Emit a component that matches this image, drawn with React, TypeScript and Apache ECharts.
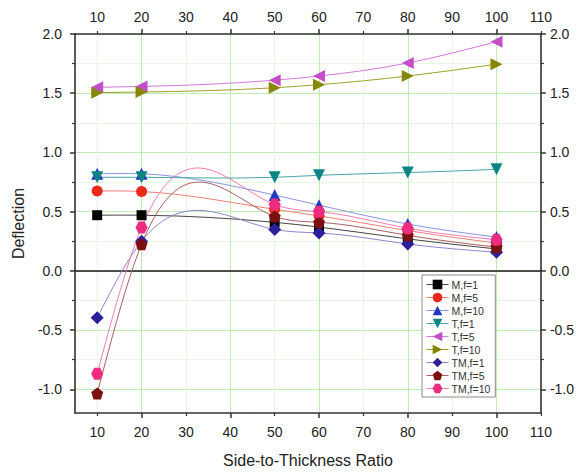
import React, { useEffect, useRef } from "react";
import * as echarts from "echarts";

// ---- data ----
const xValues = [10, 20, 50, 60, 80, 100];
const seriesNames = ["M,f=1", "M,f=5", "M,f=10", "T,f=1", "T,f=5", "T,f=10", "TM,f=1", "TM,f=5", "TM,f=10"];
const mF1 = [0.47, 0.47, 0.41, 0.37, 0.27, 0.185];
const mF5 = [0.675, 0.67, 0.52, 0.465, 0.34, 0.235];
const mF10 = [0.82, 0.82, 0.64, 0.555, 0.395, 0.285];
const tF1 = [0.79, 0.79, 0.79, 0.807, 0.83, 0.857];
const tF5 = [1.55, 1.557, 1.61, 1.645, 1.755, 1.935];
const tF10 = [1.505, 1.51, 1.546, 1.572, 1.645, 1.745];
const tmF1 = [-0.395, 0.25, 0.35, 0.32, 0.227, 0.157];
const tmF5 = [-1.035, 0.225, 0.46, 0.41, 0.3, 0.2];
const tmF10 = [-0.868, 0.367, 0.56, 0.5, 0.36, 0.263];
const allValues = [mF1, mF5, mF10, tF1, tF5, tF10, tmF1, tmF5, tmF10];

const xLabelValues = [10, 20, 30, 40, 50, 60, 70, 80, 90, 100, 110];
const xMajorTicks = [20, 40, 60, 80, 100];
const xMinorTicks = [10, 30, 50, 70, 90, 110];
const yLabelValues = [-1, -0.5, 0, 0.5, 1, 1.5, 2];
const yMinorTicks = [-0.75, -0.25, 0.25, 0.75, 1.25, 1.75];

// ---- styles ----
const PENTAGON = "path://M0,-10L9.51,-3.09L5.88,8.09L-5.88,8.09L-9.51,-3.09Z";
const HEXAGON = "path://M-5,-8.66L5,-8.66L10,0L5,8.66L-5,8.66L-10,0Z";
const styles = [
  { symbol: "rect", size: 10, rotate: 0, color: "#000000", line: "#444444" },
  { symbol: "circle", size: 11, rotate: 0, color: "#ec2a1c", line: "#f08078" },
  { symbol: "triangle", size: 12, rotate: 0, color: "#2138c0", line: "#8a96dc" },
  { symbol: "triangle", size: 12, rotate: 180, color: "#0b8484", line: "#4aa6a6" },
  { symbol: "triangle", size: 12, rotate: 90, color: "#c44ec8", line: "#d27ad6" },
  { symbol: "triangle", size: 12, rotate: -90, color: "#868600", line: "#a2a22a" },
  { symbol: "diamond", size: 13, rotate: 0, color: "#2c209a", line: "#8e86c8" },
  { symbol: PENTAGON, size: 12, rotate: 0, color: "#7c1010", line: "#a86060" },
  { symbol: HEXAGON, size: 12, rotate: 0, color: "#ee2c80", line: "#f27cb4" },
];

const FONT = "'Liberation Sans', Arial, Helvetica, sans-serif";
const AXIS_COLOR = "#333333";
const LABEL_COLOR = "#222222";
const MAJOR_GRID = "#c0eab6";
const MINOR_GRID = "#e8f6e5";
const X_MIN = 5, X_MAX = 110, Y_MIN = -1.2, Y_MAX = 2.0;

// natural cubic spline -> bezier segments (data space), used only to draw the connecting line
function splineSegments(xs: number[], ys: number[]) {
  const n = xs.length;
  const h: number[] = [];
  for (let i = 0; i < n - 1; i++) h.push(xs[i + 1] - xs[i]);
  const M = new Array(n).fill(0);
  if (n > 2) {
    const m = n - 2;
    const a: number[] = [], b: number[] = [], c: number[] = [], d: number[] = [];
    for (let k = 0; k < m; k++) {
      const i = k + 1;
      a.push(h[i - 1]);
      b.push(2 * (h[i - 1] + h[i]));
      c.push(h[i]);
      d.push(6 * ((ys[i + 1] - ys[i]) / h[i] - (ys[i] - ys[i - 1]) / h[i - 1]));
    }
    for (let k = 1; k < m; k++) {
      const w = a[k] / b[k - 1];
      b[k] -= w * c[k - 1];
      d[k] -= w * d[k - 1];
    }
    const sol = new Array(m).fill(0);
    sol[m - 1] = d[m - 1] / b[m - 1];
    for (let k = m - 2; k >= 0; k--) sol[k] = (d[k] - c[k] * sol[k + 1]) / b[k];
    for (let k = 0; k < m; k++) M[k + 1] = sol[k];
  }
  const segs = [];
  for (let i = 0; i < n - 1; i++) {
    const hi = h[i];
    const dy = (ys[i + 1] - ys[i]) / hi;
    const s0 = dy - (hi * (2 * M[i] + M[i + 1])) / 6;
    const s1 = dy + (hi * (M[i] + 2 * M[i + 1])) / 6;
    segs.push({
      p0: [xs[i], ys[i]],
      c1: [xs[i] + hi / 3, ys[i] + (s0 * hi) / 3],
      c2: [xs[i + 1] - hi / 3, ys[i + 1] - (s1 * hi) / 3],
      p1: [xs[i + 1], ys[i + 1]],
    });
  }
  return segs;
}

export default function App() {
  const ref = useRef<HTMLDivElement>(null);
  useEffect(() => {
    if (!ref.current) return;
    const chart = echarts.init(ref.current, null, { renderer: "svg" });

    const baseX = { type: "value", min: X_MIN, max: X_MAX, gridIndex: 0 } as any;
    const baseY = { type: "value", min: Y_MIN, max: Y_MAX, gridIndex: 0 } as any;
    const label = (values: number[], margin: number, fmt: (v: number) => string) => ({
      show: true,
      customValues: values,
      margin,
      color: LABEL_COLOR,
      fontSize: 14,
      fontFamily: FONT,
      formatter: fmt,
    });
    const fmtX = (v: number) => String(Math.round(v));
    const fmtY = (v: number) => v.toFixed(1);

    const xAxes = [
      {
        ...baseX, position: "bottom",
        axisLine: { show: true, onZero: false, lineStyle: { color: AXIS_COLOR, width: 1.6 } },
        axisTick: { show: true, customValues: xMajorTicks, length: 5, inside: false, lineStyle: { color: AXIS_COLOR, width: 1.5 } },
        axisLabel: label(xLabelValues, 12, fmtX),
        splitLine: { show: true, lineStyle: { color: MAJOR_GRID, width: 1 } },
        name: "Side-to-Thickness Ratio", nameLocation: "middle", nameGap: 39,
        nameTextStyle: { fontSize: 16, fontFamily: FONT, color: LABEL_COLOR },
      },
      {
        ...baseX, position: "top",
        axisLine: { show: true, onZero: false, lineStyle: { color: AXIS_COLOR, width: 1.6 } },
        axisTick: { show: true, customValues: xMajorTicks, length: 5, lineStyle: { color: AXIS_COLOR, width: 1.5 } },
        axisLabel: label(xLabelValues, 10, fmtX),
        splitLine: { show: false },
      },
      {
        ...baseX, position: "bottom",
        axisLine: { show: false, onZero: false },
        axisTick: { show: true, customValues: xMinorTicks, length: 3, lineStyle: { color: AXIS_COLOR, width: 1.2 } },
        axisLabel: { show: false },
        splitLine: { show: true, lineStyle: { color: MINOR_GRID, width: 1 } },
      },
      {
        ...baseX, position: "top",
        axisLine: { show: false, onZero: false },
        axisTick: { show: true, customValues: xMinorTicks, length: 3, lineStyle: { color: AXIS_COLOR, width: 1.2 } },
        axisLabel: { show: false },
        splitLine: { show: false },
      },
    ];

    const yAxes = [
      {
        ...baseY, position: "left",
        axisLine: { show: true, onZero: false, lineStyle: { color: AXIS_COLOR, width: 1.6 } },
        axisTick: { show: true, customValues: yLabelValues, length: 5, lineStyle: { color: AXIS_COLOR, width: 1.5 } },
        axisLabel: label(yLabelValues, 13, fmtY),
        splitLine: { show: true, lineStyle: { color: MAJOR_GRID, width: 1 } },
        name: "Deflection", nameLocation: "middle", nameGap: 49,
        nameTextStyle: { fontSize: 16, fontFamily: FONT, color: LABEL_COLOR },
      },
      {
        ...baseY, position: "right",
        axisLine: { show: true, onZero: false, lineStyle: { color: AXIS_COLOR, width: 1.6 } },
        axisTick: { show: true, customValues: yLabelValues, length: 5, lineStyle: { color: AXIS_COLOR, width: 1.5 } },
        axisLabel: label(yLabelValues, 9, fmtY),
        splitLine: { show: false },
      },
      {
        ...baseY, position: "left",
        axisLine: { show: false, onZero: false },
        axisTick: { show: true, customValues: yMinorTicks, length: 3, lineStyle: { color: AXIS_COLOR, width: 1.2 } },
        axisLabel: { show: false },
        splitLine: { show: true, lineStyle: { color: MINOR_GRID, width: 1 } },
      },
      {
        ...baseY, position: "right",
        axisLine: { show: false, onZero: false },
        axisTick: { show: true, customValues: yMinorTicks, length: 3, lineStyle: { color: AXIS_COLOR, width: 1.2 } },
        axisLabel: { show: false },
        splitLine: { show: false },
      },
    ];

    const curveSeries: any[] = allValues.map((vals, i) => {
      const s = styles[i];
      const segs = splineSegments(xValues, vals);
      return {
        name: seriesNames[i] + " curve",
        type: "custom",
        coordinateSystem: "cartesian2d",
        xAxisIndex: 0,
        yAxisIndex: 0,
        data: xValues.map((x, j) => [x, vals[j]]),
        encode: { x: 0, y: 1 },
        silent: true,
        z: 2,
        renderItem: (params: any, api: any) => {
          const seg = segs[params.dataIndex];
          if (!seg) return null;
          const p0 = api.coord(seg.p0);
          const c1 = api.coord(seg.c1);
          const c2 = api.coord(seg.c2);
          const p1 = api.coord(seg.p1);
          return {
            type: "bezierCurve",
            shape: { x1: p0[0], y1: p0[1], cpx1: c1[0], cpy1: c1[1], cpx2: c2[0], cpy2: c2[1], x2: p1[0], y2: p1[1] },
            style: { stroke: s.line, lineWidth: 1, fill: null },
          };
        },
      };
    });

    const markerSeries: any[] = allValues.map((vals, i) => {
      const s = styles[i];
      return {
        name: seriesNames[i],
        type: "line",
        xAxisIndex: 0,
        yAxisIndex: 0,
        data: xValues.map((x, j) => [x, vals[j]]),
        symbol: s.symbol,
        symbolSize: s.size,
        symbolRotate: s.rotate,
        showAllSymbol: true,
        itemStyle: { color: s.color, borderWidth: 0 },
        lineStyle: { color: s.line, width: 1, opacity: 0 },
        z: 4 + i,
      };
    });
    markerSeries[0].markLine = {
      silent: true,
      symbol: ["none", "none"],
      label: { show: false },
      lineStyle: { color: "#1a1a1a", width: 1.5, type: "solid", opacity: 1 },
      data: [{ yAxis: 0 }],
      z: 1,
    };

    chart.setOption({
      animation: false,
      backgroundColor: "#ffffff",
      grid: { left: 75, right: 36, top: 34, bottom: 58, containLabel: false },
      xAxis: xAxes,
      yAxis: yAxes,
      legend: {
        data: seriesNames.map((name, i) => ({
          name,
          symbolRotate: styles[i].rotate,
          lineStyle: { color: styles[i].line, width: 1, opacity: 1 },
        })),
        orient: "vertical",
        left: 422,
        top: 275,
        padding: [4, 5, 3, 4],
        itemGap: 2,
        itemWidth: 22,
        itemHeight: 12,
        backgroundColor: "#ffffff",
        borderColor: "#8a8a8a",
        borderWidth: 1,
        textStyle: { fontSize: 10.5, fontFamily: FONT, color: "#333333", padding: [0, 0, 0, -2] },
      },
      series: [...curveSeries, ...markerSeries],
    });
    return () => chart.dispose();
  }, []);
  return <div ref={ref} style={{ width: 577, height: 473, position: "absolute", left: 0, top: 0 }} />;
}
